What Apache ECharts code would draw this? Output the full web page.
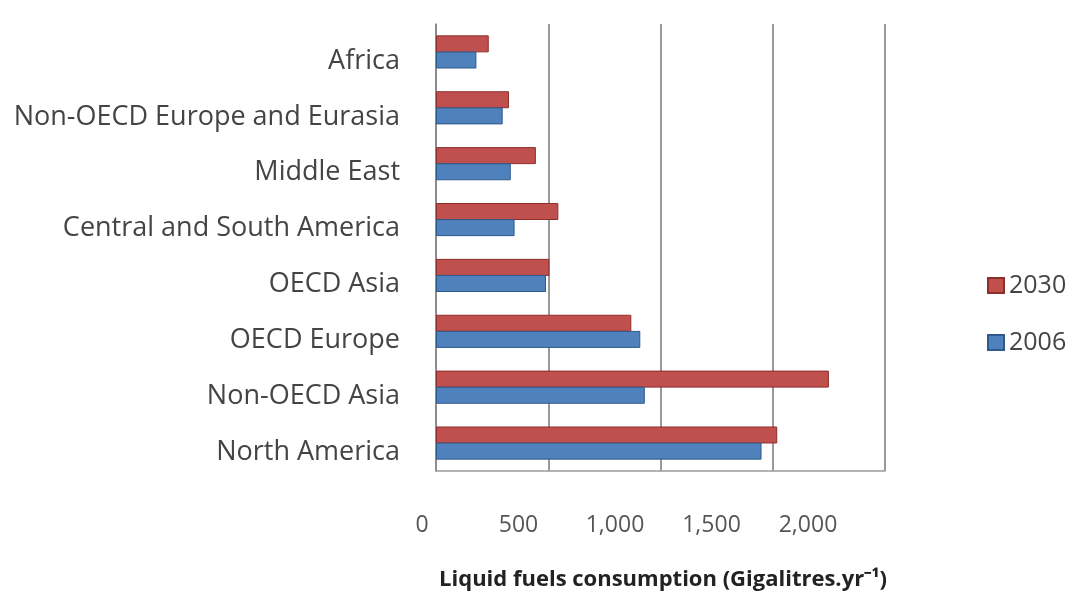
<!DOCTYPE html>
<html><head><meta charset="utf-8">
<script src="https://cdn.jsdelivr.net/npm/echarts@6/dist/echarts.min.js"></script>
<style>html,body{margin:0;padding:0;background:#fff}#c{width:1077px;height:604px}</style>
</head><body><div id="c"></div>
<script>
const categories = ["Africa","Non-OECD Europe and Eurasia","Middle East","Central and South America","OECD Asia","OECD Europe","Non-OECD Asia","North America"];
const values2030 = [235, 325, 445, 545, 505, 870, 1750, 1520];
const values2006 = [180, 297, 333, 350, 490, 910, 930, 1450];
const tickLabels = ["0","500","1,000","1,500","2,000"];
const axisTitle = "Liquid fuels consumption (Gigalitres.yr\u207B\u00B9)";

const chart = echarts.init(document.getElementById('c'));
const font = "Open Sans";
chart.setOption({
  animation: false,
  textStyle: {fontFamily: font},
  legend: {
    orient: 'vertical', left: 982, top: 268, itemGap: 32,
    itemWidth: 16, itemHeight: 15, icon: 'rect',
    data: ['2030','2006'],
    textStyle: {fontSize: 25, color: '#444', fontFamily: font}
  },
  grid: [
    {left: 436, width: 449, top: 24, height: 447},
    {left: 422, width: 386, top: 24, height: 447}
  ],
  xAxis: [
    {gridIndex: 0, type: 'value', min: 0, max: 2000, interval: 500,
     axisLabel: {show: false}, axisTick: {show: false},
     axisLine: {show: true, lineStyle: {color: '#999', width: 1.5}},
     splitLine: {show: true, lineStyle: {color: '#999', width: 2}}},
    {gridIndex: 1, type: 'value', min: 0, max: 2000, interval: 500,
     axisLine: {show: false}, axisTick: {show: false}, splitLine: {show: false},
     axisLabel: {margin: 43, fontSize: 23, color: '#555', fontFamily: font,
       formatter: (v, i) => tickLabels[i]},
     name: axisTitle, nameLocation: 'middle', nameGap: 98,
     nameTextStyle: {fontSize: 22, fontWeight: 'bold', color: '#222', fontFamily: font, padding: [0,0,0,96]}}
  ],
  yAxis: [
    {gridIndex: 0, type: 'category', inverse: true, data: categories,
     axisLine: {show: true, lineStyle: {color: '#888', width: 1.5}},
     axisTick: {show: false},
     axisLabel: {margin: 36, color: '#444', fontFamily: font,
       formatter: v => '{a|' + v + '}',
       rich: {a: {fontSize: 27, color: '#444', fontFamily: font, padding: [18,0,0,0]}}}},
    {gridIndex: 1, type: 'category', show: false, data: categories}
  ],
  series: [
    {name: '2030', type: 'bar', xAxisIndex: 0, yAxisIndex: 0, data: values2030,
     barWidth: 17, barGap: '-5%',
     itemStyle: {color: '#C0504D', borderColor: '#8E2F2C', borderWidth: 1}},
    {name: '2006', type: 'bar', xAxisIndex: 0, yAxisIndex: 0, data: values2006,
     barWidth: 17, barGap: '-5%',
     itemStyle: {color: '#4F81BD', borderColor: '#2E5A8C', borderWidth: 1}}
  ]
});
</script></body></html>
